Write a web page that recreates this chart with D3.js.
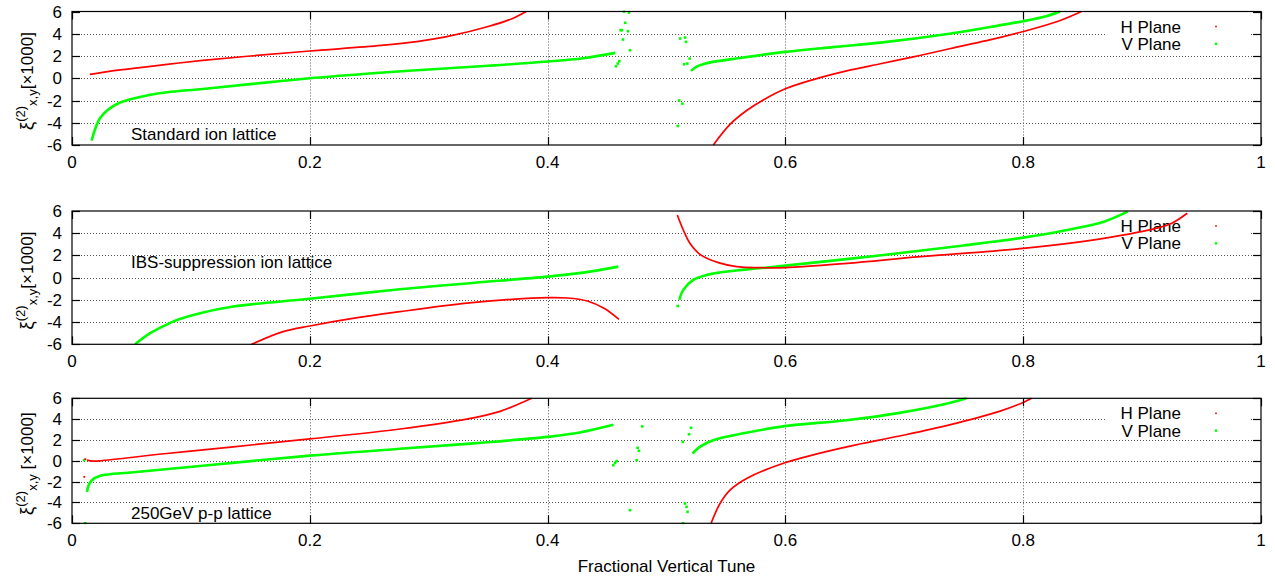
<!DOCTYPE html>
<html><head><meta charset="utf-8">
<script src="https://cdn.jsdelivr.net/npm/d3@7"></script>
<style>
body{margin:0;background:#fff}
svg{display:block}
text{font-family:"Liberation Sans",Arial,Helvetica,sans-serif;fill:#000}
</style>
</head><body>
<svg id="chart" width="1275" height="581"></svg>
<script>
// ---------- tick labels / categories ----------
const xTicks = [0, 0.2, 0.4, 0.6, 0.8, 1];
const xTickLabels = ["0", "0.2", "0.4", "0.6", "0.8", "1"];
const yTicks = [-6, -4, -2, 0, 2, 4, 6];
const yTickLabels = ["-6", "-4", "-2", "0", "2", "4", "6"];
const panelTitles = ["Standard ion lattice", "IBS-suppression ion lattice", "250GeV p-p lattice"];
const legendLabels = ["H Plane", "V Plane"];
const xAxisTitle = "Fractional Vertical Tune";

// ---------- Standard ion lattice ----------
const stdH1 = [[0.015,0.35],[0.03,0.6],[0.05,0.86],[0.08,1.25],[0.11,1.6],[0.15,2.0],[0.2,2.45],[0.26,2.95],[0.29,3.3],[0.32,3.85],[0.35,4.65],[0.37,5.35],[0.382,6.0]];
const stdH2 = [[0.5394,-6],[0.5534,-4.15],[0.5674,-2.9],[0.5814,-1.95],[0.6,-0.95],[0.6235,-0.12],[0.6515,0.66],[0.68,1.3],[0.7076,1.92],[0.738,2.65],[0.78,3.65],[0.8,4.2],[0.83,5.15],[0.849,6]];
const stdV1 = [[0.0165,-5.6],[0.0195,-4.56],[0.0235,-3.6],[0.03,-2.85],[0.04,-2.2],[0.05,-1.86],[0.065,-1.5],[0.08,-1.26],[0.11,-0.96],[0.15,-0.53],[0.2,0],[0.25,0.42],[0.29,0.72],[0.35,1.12],[0.4,1.5],[0.43,1.8],[0.457,2.28]];
const stdV2 = [[0.5206,0.66],[0.525,1.02],[0.532,1.3],[0.539,1.47],[0.56,1.8],[0.6,2.37],[0.64,2.8],[0.68,3.2],[0.738,4.0],[0.78,4.75],[0.8,5.13],[0.82,5.6],[0.831,6.0]];
const stdVDots = [[0.4575,1.08],[0.459,1.32],[0.4603,1.53],[0.4614,4.32],[0.4625,4.32],[0.4634,3.48],[0.4642,6.0],[0.4653,4.98],[0.4676,4.23],[0.4684,5.9],[0.4693,2.52],
  [0.5095,-4.29],[0.5106,-2.0],[0.5114,3.57],[0.5134,-2.28],[0.5147,1.26],[0.5156,3.66],[0.5164,3.27],[0.5175,1.32],[0.5195,1.77]];
const stdHDots = [];

// ---------- IBS-suppression ion lattice ----------
const ibsH1 = [[0.151,-6],[0.1776,-4.86],[0.2,-4.35],[0.24,-3.6],[0.2759,-3.06],[0.332,-2.3],[0.37,-1.95],[0.4,-1.8],[0.4166,-1.83],[0.4334,-2.1],[0.4474,-2.76],[0.46,-3.75]];
const ibsH2 = [[0.5091,5.64],[0.5141,4.29],[0.5197,3.09],[0.5281,2.1],[0.5436,1.35],[0.559,1.0],[0.5775,0.9],[0.6,0.9],[0.6518,1.29],[0.7135,1.89],[0.8,2.64],[0.8678,3.54],[0.914,4.5],[0.925,4.9],[0.938,5.8]];
const ibsV1 = [[0.053,-6],[0.0657,-5.0],[0.08,-4.2],[0.09,-3.75],[0.1077,-3.2],[0.1357,-2.6],[0.2,-1.9],[0.2759,-1.05],[0.332,-0.52],[0.4,0.09],[0.43,0.45],[0.4595,0.99]];
const ibsV2 = [[0.5108,-2.0],[0.5141,-1.1],[0.5225,-0.2],[0.5337,0.24],[0.5449,0.47],[0.559,0.65],[0.5775,0.84],[0.6,1.08],[0.6826,2.04],[0.75,2.9],[0.8,3.6],[0.837,4.29],[0.8678,5.04],[0.8878,5.94]];
const ibsVDots = [[0.5094,-2.55]];
const ibsHDots = [];

// ---------- 250GeV p-p lattice ----------
const ppH1 = [[0.0126,0.06],[0.018,-0.03],[0.024,0.0],[0.0797,0.7],[0.1357,1.34],[0.2,2.1],[0.2759,3.05],[0.332,4.0],[0.36,4.75],[0.3866,6]];
const ppH2 = [[0.5375,-6],[0.545,-4.1],[0.5534,-2.82],[0.5674,-1.7],[0.5996,-0.19],[0.6515,1.34],[0.696,2.38],[0.738,3.45],[0.78,4.75],[0.8,5.6],[0.807,6]];
const ppV1 = [[0.0126,-2.98],[0.014,-2.34],[0.0168,-1.86],[0.0238,-1.44],[0.0517,-1.1],[0.1077,-0.5],[0.2,0.5],[0.2759,1.15],[0.34,1.7],[0.4,2.3],[0.4272,2.72],[0.4553,3.45]];
const ppV2 = [[0.5219,0.7],[0.528,1.34],[0.5392,1.98],[0.5672,2.69],[0.5995,3.33],[0.6514,3.9],[0.696,4.6],[0.738,5.55],[0.7523,6.0]];
const ppVDots = [[0.0103,0.06],[0.0112,-6],[0.4553,-0.42],[0.4567,-0.19],[0.4581,-0.03],[0.4693,-4.74],[0.4749,0.06],[0.4757,1.25],[0.4768,0.96],[0.4796,3.3],
  [0.5136,1.82],[0.5189,2.55],[0.5206,3.17],[0.5155,-4.1],[0.5169,-4.42],[0.5177,-4.9],[0.514,-6]];
const ppHDots = [[0.0103,-1.54],[0.0112,0.16]];

// ---------- layout ----------
const left = 72, right = 1261;
const FS = 17;
const colorH = "#ff0000", colorV = "#00ff00";

const panels = [
  {top: 11.5, bottom: 145, title: panelTitles[0], titleV: -5, H: [stdH1, stdH2], V: [stdV1, stdV2], HD: stdHDots, VD: stdVDots, ylabSpace: false},
  {top: 211, bottom: 344.3, title: panelTitles[1], titleV: 1.4, H: [ibsH1, ibsH2], V: [ibsV1, ibsV2], HD: ibsHDots, VD: ibsVDots, ylabSpace: false},
  {top: 398.3, bottom: 523.3, title: panelTitles[2], titleV: -5, H: [ppH1, ppH2], V: [ppV1, ppV2], HD: ppHDots, VD: ppVDots, ylabSpace: true}
];

const svg = d3.select("#chart");
const x = d3.scaleLinear().domain([0, 1]).range([left, right]);

panels.forEach((p, i) => {
  const y = d3.scaleLinear().domain([-6, 6]).range([p.bottom, p.top]);
  const g = svg.append("g");
  const clipId = "clip" + i;
  svg.append("clipPath").attr("id", clipId).append("rect")
    .attr("x", left).attr("y", p.top - 1).attr("width", right - left).attr("height", p.bottom - p.top + 2);

  // grid
  const grid = g.append("g").attr("stroke", "#555").attr("stroke-width", 1).attr("stroke-dasharray", "1,2");
  yTicks.slice(1, -1).forEach(v => {
    grid.append("line").attr("x1", left).attr("x2", right).attr("y1", Math.round(y(v)) + 0.5).attr("y2", Math.round(y(v)) + 0.5);
  });
  xTicks.slice(1, -1).forEach(t => {
    grid.append("line").attr("x1", Math.round(x(t)) + 0.5).attr("x2", Math.round(x(t)) + 0.5).attr("y1", p.top).attr("y2", p.bottom);
  });

  // legend background
  g.append("rect").attr("x", 1106).attr("y", p.top + 5).attr("width", 144).attr("height", 35).attr("fill", "#fff");

  // legend
  legendLabels.forEach((lab, k) => {
    const cy = p.top + 15 + k * 17.3;
    g.append("text").attr("x", 1181).attr("y", cy + 6).attr("text-anchor", "end")
      .attr("font-size", FS).text(lab);
    const s = k === 0 ? 1.6 : 2.4;
    g.append("rect").attr("x", 1216 - s / 2).attr("y", cy - s / 2).attr("width", s).attr("height", s)
      .attr("fill", k === 0 ? colorH : colorV);
  });

  // data
  const dg = g.append("g").attr("clip-path", `url(#${clipId})`);
  const line = d3.line().x(d => x(d[0])).y(d => y(d[1])).curve(d3.curveCatmullRom.alpha(0.5));
  p.V.forEach(seg => {
    dg.append("path").attr("d", line(seg)).attr("fill", "none").attr("stroke", colorV).attr("stroke-width", 2.6);
  });
  p.H.forEach(seg => {
    dg.append("path").attr("d", line(seg)).attr("fill", "none").attr("stroke", colorH).attr("stroke-width", 1.7);
  });
  dg.selectAll(".vd").data(p.VD).enter().append("rect")
    .attr("x", d => x(d[0]) - 1.3).attr("y", d => y(d[1]) - 1.3).attr("width", 2.6).attr("height", 2.6).attr("fill", colorV);
  dg.selectAll(".hd").data(p.HD).enter().append("rect")
    .attr("x", d => x(d[0]) - 0.9).attr("y", d => y(d[1]) - 0.9).attr("width", 1.8).attr("height", 1.8).attr("fill", colorH);

  // border & ticks
  const bg = g.append("g").attr("stroke", "#000").attr("stroke-width", 1.2).attr("fill", "none");
  bg.append("rect").attr("x", left).attr("y", p.top).attr("width", right - left).attr("height", p.bottom - p.top);
  const tl = 8;
  yTicks.forEach(v => {
    const yy = Math.round(y(v)) + 0.5;
    bg.append("line").attr("x1", left).attr("x2", left + tl).attr("y1", yy).attr("y2", yy);
    bg.append("line").attr("x1", right).attr("x2", right - tl).attr("y1", yy).attr("y2", yy);
  });
  xTicks.forEach(t => {
    const xx = Math.round(x(t)) + 0.5;
    bg.append("line").attr("x1", xx).attr("x2", xx).attr("y1", p.bottom).attr("y2", p.bottom - tl);
    bg.append("line").attr("x1", xx).attr("x2", xx).attr("y1", p.top).attr("y2", p.top + tl);
  });

  // tick labels
  yTicks.forEach((v, k) => {
    g.append("text").attr("x", 62).attr("y", y(v) + 6).attr("text-anchor", "end").attr("font-size", FS).text(yTickLabels[k]);
  });
  xTicks.forEach((t, k) => {
    g.append("text").attr("x", x(t)).attr("y", p.bottom + 23).attr("text-anchor", "middle").attr("font-size", FS).text(xTickLabels[k]);
  });

  // panel title
  g.append("text").attr("x", 131).attr("y", y(p.titleV) + 6).attr("font-size", FS).text(p.title);

  // y-axis label
  const cy = (p.top + p.bottom) / 2 + 3;
  const yl = g.append("text").attr("transform", `translate(33,${cy}) rotate(-90)`)
    .attr("text-anchor", "middle").attr("font-size", FS);
  yl.append("tspan").attr("font-size", 19).text("ξ");
  yl.append("tspan").attr("font-size", 13).attr("dy", -8).text("(2)");
  yl.append("tspan").attr("font-size", 13).attr("dy", 12).text("x,y");
  yl.append("tspan").attr("dy", -4).text((p.ylabSpace ? " " : "") + "[×1000]");
});

svg.append("text").attr("x", (left + right) / 2).attr("y", 572).attr("text-anchor", "middle")
  .attr("font-size", FS).text(xAxisTitle);
</script>
</body></html>
